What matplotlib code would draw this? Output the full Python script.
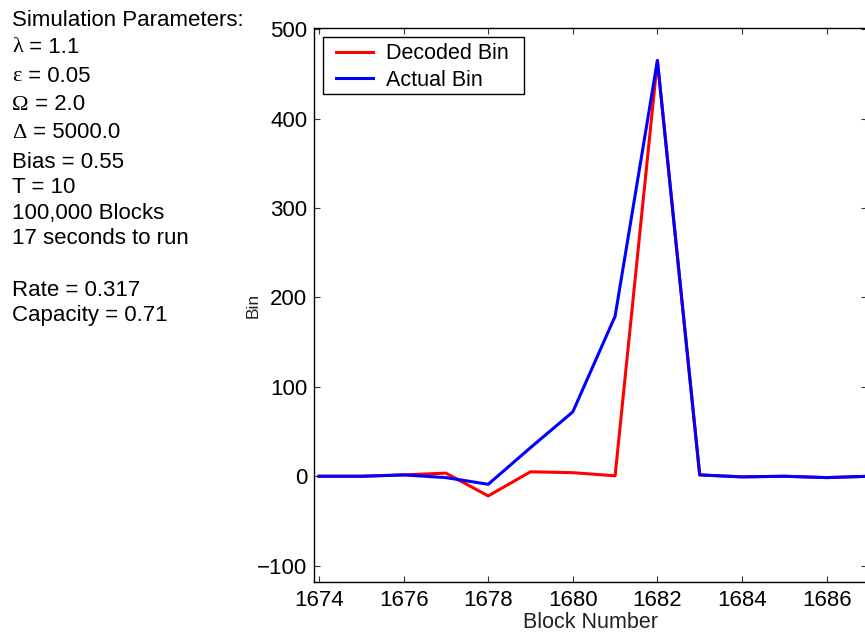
import matplotlib
matplotlib.use("Agg")
import matplotlib.pyplot as plt
from matplotlib.patches import Rectangle
from matplotlib.transforms import IdentityTransform

# ---- data ----
blocks = [1674, 1675, 1676, 1677, 1678, 1679, 1680, 1681, 1682, 1683, 1684, 1685, 1686, 1687]
decoded = [0, 0, 1.5, 3.5, -22, 5, 4, 0.5, 465, 1.5, -0.7, 0, -1.5, 0]
actual = [0, 0, 1.5, -1.5, -9, 32, 72, 179, 465, 1.5, -0.7, 0, -1.5, 0]
xticks = [1674, 1676, 1678, 1680, 1682, 1684, 1686]
yticks = [-100, 0, 100, 200, 300, 400, 500]
series_names = ["Decoded Bin", "Actual Bin"]

param_lines = [
    ("", "Simulation Parameters:"),
    ("\u03bb", " = 1.1"),
    ("\u03b5", " = 0.05"),
    ("\u03a9", " = 2.0"),
    ("\u0394", " = 5000.0"),
    ("", "Bias = 0.55"),
    ("", "T = 10"),
    ("", "100,000 Blocks"),
    ("", "17 seconds to run"),
    ("", ""),
    ("", "Rate = 0.317"),
    ("", "Capacity = 0.71"),
]
line_y_px = [20, 47.5, 76.5, 105, 133, 162, 188, 213, 238, 264, 290, 315]

plt.rcParams['font.family'] = ['Liberation Sans', 'DejaVu Sans']
FS = 15.5
TFS = 16

W, H = 865, 634
fig = plt.figure(figsize=(W / 100, H / 100), dpi=100)
left, right, bottom, top = 313.5, 867.0, 582.3, 28.3
ax = fig.add_axes([left / W, (H - bottom) / H, (right - left) / W, (bottom - top) / H])

ax.plot(blocks, decoded, color='#ff0000', lw=2.2, label=series_names[0])
ax.plot(blocks, actual, color='#0000ff', lw=2.2, label=series_names[1])

ax.set_xlim(1673.87, 1686.955)
ax.set_ylim(-118.6, 501)
ax.set_xticks(xticks)
ax.set_yticks(yticks)
ax.set_yticklabels(["\u2212100", "0", "100", "200", "300", "400", "500"])
ax.tick_params(direction='in', length=4, width=0.8, color='#333333',
               top=True, right=True, labelsize=TFS, labelcolor='black')
ax.tick_params(axis='x', pad=5.5)
ax.tick_params(axis='y', pad=4.5)
for s in ax.spines.values():
    s.set_linewidth(1.0)
    s.set_color('black')

ax.set_xlabel("Block Number", fontsize=15.5, labelpad=0.6, color='#222222')
ax.set_ylabel("Bin", fontsize=12.5, labelpad=-2.5, color='#222222')

# legend (frame drawn separately with wider horizontal padding)
bp = 0.15
leg_left_px = 336 - bp * FS * 100 / 72
leg_top_px = 40.0
leg = ax.legend(loc='upper left',
                bbox_to_anchor=((leg_left_px - left) / (right - left), 1 - (leg_top_px - top) / (bottom - top)),
                fontsize=FS, frameon=False, handlelength=1.72,
                handletextpad=0.6, borderpad=bp, labelspacing=0.25, borderaxespad=0)

x0 = 12 / W
PFS = 16
for (greek, rest), ypx in zip(param_lines, line_y_px):
    yy = 1 - ypx / H
    if greek:
        t = fig.text(x0, yy, greek, fontsize=PFS, family='Liberation Serif', va='center', ha='left')
        ann = fig.text(x0, yy, rest, fontsize=PFS, va='center', ha='left')
        fig.canvas.draw()
        bb = t.get_window_extent()
        ann.set_position(((bb.x1 + 0.5) / W, yy))
    elif rest:
        fig.text(x0, yy, rest, fontsize=PFS, va='center', ha='left')

fig.canvas.draw()
lb = leg.get_window_extent()
dx = 10
extra_top = 2.7
frame = Rectangle((lb.x0 - dx, lb.y0), lb.width + 2 * dx + 2, lb.height + extra_top,
                  transform=IdentityTransform(), fill=True, facecolor='white',
                  edgecolor='black', linewidth=1.0, zorder=4)
ax.add_artist(frame)
frame.set_clip_on(False)
leg.set_zorder(5)

fig.savefig("out.png", dpi=100)
